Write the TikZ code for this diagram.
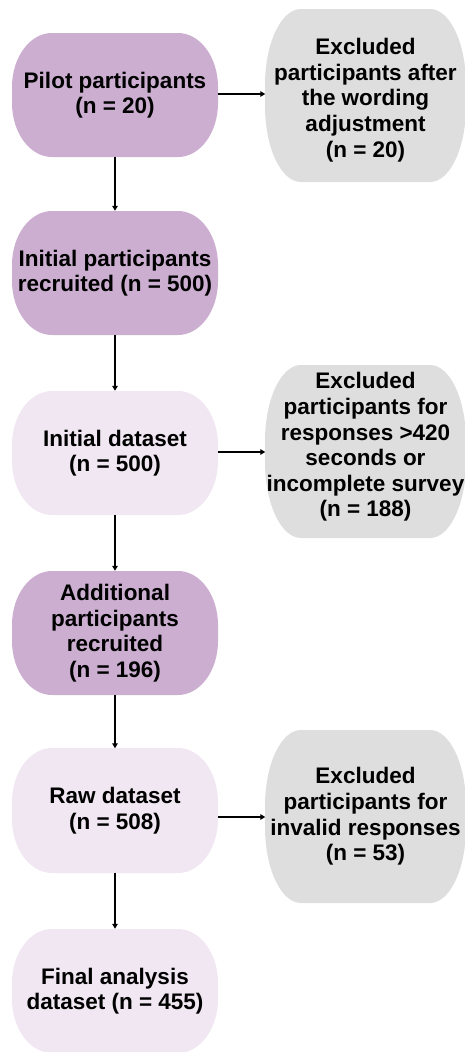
\documentclass[tikz,border=0pt]{standalone}
\usepackage{fontspec}
\setmainfont{Liberation Sans}
\usetikzlibrary{arrows.meta}
\definecolor{darkpurp}{RGB}{203,174,208}
\definecolor{lightpurp}{RGB}{241,231,242}
\definecolor{greybox}{RGB}{222,222,222}
\newcommand\flowblob[7]{%
  \fill[#7] ({#1pt+#5pt},{-#2pt}) -- ({#3pt-#5pt},{-#2pt})
    arc[start angle=90,end angle=0,x radius=#5pt,y radius=#6pt]
    -- ({#3pt},{-#4pt+#6pt})
    arc[start angle=0,end angle=-90,x radius=#5pt,y radius=#6pt]
    -- ({#1pt+#5pt},{-#4pt})
    arc[start angle=270,end angle=180,x radius=#5pt,y radius=#6pt]
    -- ({#1pt},{-#2pt-#6pt})
    arc[start angle=180,end angle=90,x radius=#5pt,y radius=#6pt]
    -- cycle;}
\begin{document}
\begin{tikzpicture}[x=1pt,y=1pt,
  lbox/.style={rectangle,draw=none,inner sep=0pt,minimum width=205pt,minimum height=124pt,
    align=center,font=\fontsize{22.5}{25.6}\selectfont\bfseries},
  rbox/.style={rectangle,draw=none,inner sep=0pt,minimum width=200pt,minimum height=173pt,
    align=center,font=\fontsize{22.5}{25.6}\selectfont\bfseries},
  flow/.style={line width=1.3pt,-{Triangle[length=5pt,width=5.5pt]}}]
\useasboundingbox (0,0) rectangle (465,-1052);
% shapes
\flowblob{12}{33}{218}{157}{40}{54}{darkpurp}
\flowblob{12}{211}{218}{335}{40}{54}{darkpurp}
\flowblob{12}{391}{218}{515}{40}{54}{lightpurp}
\flowblob{12}{571}{218}{695}{40}{54}{darkpurp}
\flowblob{12}{748}{218}{873}{40}{54}{lightpurp}
\flowblob{12}{929}{218}{1053}{40}{54}{lightpurp}
\flowblob{265}{9}{466}{182}{36}{76}{greybox}
\flowblob{265}{365}{466}{538}{36}{76}{greybox}
\flowblob{265}{730}{466}{903}{36}{76}{greybox}
% nodes
\node[lbox] (pilot) at (115,-95) {Pilot participants\\(n = 20)};
\node[lbox] (init) at (115,-273) {Initial participants\\recruited (n = 500)};
\node[lbox] (ids) at (115,-453) {Initial dataset\\(n = 500)};
\node[lbox] (add) at (115,-633) {Additional\\participants\\recruited\\(n = 196)};
\node[lbox] (raw) at (115,-810.5) {Raw dataset\\(n = 508)};
\node[lbox] (final) at (115,-991) {Final analysis\\dataset (n = 455)};
\node[rbox] (ex1) at (365.5,-100) {Excluded\\participants after\\the wording\\adjustment\\(n = 20)};
\node[rbox] (ex2) at (365.5,-447) {Excluded\\participants for\\responses >420\\seconds or\\incomplete survey\\(n = 188)};
\node[rbox] (ex3) at (365.5,-816.5) {Excluded\\participants for\\invalid responses\\(n = 53)};
% connectors
\draw[flow] (pilot.south) -- (init.north);
\draw[flow] (init.south) -- (ids.north);
\draw[flow] (ids.south) -- (add.north);
\draw[flow] (add.south) -- (raw.north);
\draw[flow] (raw.south) -- (final.north);
\draw[flow] (pilot.east |- 0,-94) -- (ex1.west |- 0,-94);
\draw[flow] (ids.east |- 0,-452) -- (ex2.west |- 0,-452);
\draw[flow] (raw.east |- 0,-817) -- (ex3.west |- 0,-817);
\end{tikzpicture}
\end{document}
